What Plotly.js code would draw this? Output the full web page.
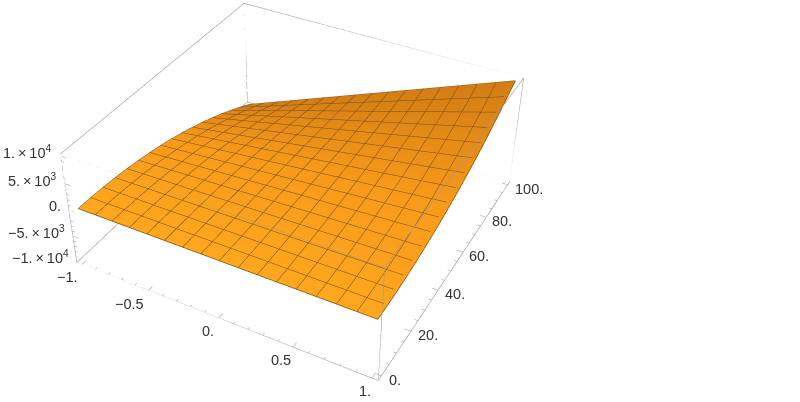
<!DOCTYPE html>
<html><head><meta charset="utf-8">
<script src="https://cdn.plot.ly/plotly-3.0.1.min.js"></script>
<style>html,body{margin:0;padding:0;background:#fff;overflow:hidden;width:800px;height:402px}
#c{position:absolute;left:-297px;top:-308px;width:1200px;height:954px}</style></head>
<body><div id="c"></div>
<script>
const xs=[-1,-0.875,-0.75,-0.625,-0.5,-0.375,-0.25,-0.125,0,0.125,0.25,0.375,0.5,0.625,0.75,0.875,1];
const ys=[0,6.25,12.5,18.75,25,31.25,37.5,43.75,50,56.25,62.5,68.75,75,81.25,87.5,93.75,100];
const zs=[
[0,0,0,0,0,0,0,0,0,0,0,0,0,0,0,0,0],
[-39,-34,-29,-24,-20,-15,-10,-5,0,5,10,15,20,24,29,34,39],
[-156,-137,-117,-98,-78,-59,-39,-20,0,20,39,59,78,98,117,137,156],
[-352,-308,-264,-220,-176,-132,-88,-44,0,44,88,132,176,220,264,308,352],
[-625,-547,-469,-391,-312,-234,-156,-78,0,78,156,234,312,391,469,547,625],
[-977,-854,-732,-610,-488,-366,-244,-122,0,122,244,366,488,610,732,854,977],
[-1406,-1230,-1055,-879,-703,-527,-352,-176,0,176,352,527,703,879,1055,1230,1406],
[-1914,-1675,-1436,-1196,-957,-718,-479,-239,0,239,479,718,957,1196,1436,1675,1914],
[-2500,-2188,-1875,-1562,-1250,-938,-625,-312,0,312,625,938,1250,1562,1875,2188,2500],
[-3164,-2769,-2373,-1978,-1582,-1187,-791,-396,0,396,791,1187,1582,1978,2373,2769,3164],
[-3906,-3418,-2930,-2441,-1953,-1465,-977,-488,0,488,977,1465,1953,2441,2930,3418,3906],
[-4727,-4136,-3545,-2954,-2363,-1772,-1182,-591,0,591,1182,1772,2363,2954,3545,4136,4727],
[-5625,-4922,-4219,-3516,-2812,-2109,-1406,-703,0,703,1406,2109,2812,3516,4219,4922,5625],
[-6602,-5776,-4951,-4126,-3301,-2476,-1650,-825,0,825,1650,2476,3301,4126,4951,5776,6602],
[-7656,-6699,-5742,-4785,-3828,-2871,-1914,-957,0,957,1914,2871,3828,4785,5742,6699,7656],
[-8789,-7690,-6592,-5493,-4395,-3296,-2197,-1099,0,1099,2197,3296,4395,5493,6592,7690,8789],
[-10000,-8750,-7500,-6250,-5000,-3750,-2500,-1250,0,1250,2500,3750,5000,6250,7500,8750,10000]];
const xRange=[-1.04,1.04], yRange=[-2,102], zRange=[-10300,10300];
const xMajor=[-1,-0.5,0,0.5,1], xLabels=['\u22121.','\u22120.5','0.','0.5','1.'];
const yMajor=[0,20,40,60,80,100], yLabels=['0.','20.','40.','60.','80.','100.'];
const zMajor=[-10000,-5000,0,5000,10000];
const zLabels=['\u22121.\u2009\u00d7\u200910<sup>4</sup>','\u22125.\u2009\u00d7\u200910<sup>3</sup>','0.','5.\u2009\u00d7\u200910<sup>3</sup>','1.\u2009\u00d7\u200910<sup>4</sup>'];
const xMinor=[-0.9,-0.8,-0.7,-0.6,-0.4,-0.3,-0.2,-0.1,0.1,0.2,0.3,0.4,0.6,0.7,0.8,0.9];
const yMinor=[5,10,15,25,30,35,45,50,55,65,70,75,85,90,95];
const zMinor=[-9000,-8000,-7000,-6000,-4000,-3000,-2000,-1000,1000,2000,3000,4000,6000,7000,8000,9000];
const xLabelShift=[-15,-19,-11,-12,-7];
const yLabelShift=[14,17,17,16,16,21];

const [x0,x1]=xRange,[y0,y1]=yRange,[z0,z1]=zRange;
const bx=[],by=[],bz=[];
const seg=(a,b)=>{bx.push(a[0],b[0],null);by.push(a[1],b[1],null);bz.push(a[2],b[2],null);};
[[y0,z0],[y1,z0],[y0,z1],[y1,z1]].forEach(p=>seg([x0,p[0],p[1]],[x1,p[0],p[1]]));
[[x0,z0],[x1,z0],[x0,z1],[x1,z1]].forEach(p=>seg([p[0],y0,p[1]],[p[0],y1,p[1]]));
[[x0,y0],[x1,y0],[x0,y1],[x1,y1]].forEach(p=>seg([p[0],p[1],z0],[p[0],p[1],z1]));
const tx=[],ty=[],tz=[];
const tseg=(a,b)=>{tx.push(a[0],b[0],null);ty.push(a[1],b[1],null);tz.push(a[2],b[2],null);};
const dx=x1-x0,dy=y1-y0;
xMajor.forEach(v=>tseg([v,y0,z0],[v,y0+dy*0.02,z0]));
xMinor.forEach(v=>tseg([v,y0,z0],[v,y0+dy*0.01,z0]));
yMajor.forEach(v=>tseg([x1,v,z0],[x1-dx*0.02,v,z0]));
yMinor.forEach(v=>tseg([x1,v,z0],[x1-dx*0.01,v,z0]));
zMajor.forEach(v=>tseg([x0,y0,v],[x0+dx*0.02,y0,v]));
zMinor.forEach(v=>tseg([x0,y0,v],[x0+dx*0.01,y0,v]));

const ox=[],oy=[],oz=[];
const last=xs.length-1, lastY=ys.length-1;
xs.forEach((x,i)=>{ox.push(x);oy.push(ys[0]);oz.push(zs[0][i]);});
ys.forEach((y,j)=>{ox.push(xs[last]);oy.push(y);oz.push(zs[j][last]);});
xs.slice().reverse().forEach((x,i)=>{ox.push(x);oy.push(ys[lastY]);oz.push(zs[lastY][last-i]);});
ys.slice().reverse().forEach((y,j)=>{ox.push(xs[0]);oy.push(y);oz.push(zs[lastY-j][0]);});

const font={family:'Liberation Sans, Arial, sans-serif',size:14.5,color:'#333'};
const note=(x,y,z,text,xs_,ys_,anchor)=>({x,y,z,text,showarrow:false,xshift:xs_,yshift:ys_,xanchor:anchor||'center',yanchor:'middle',font});
const annotations=[
 ...xMajor.map((v,i)=>note(v,y0,z0,xLabels[i],xLabelShift[i],-13)),
 ...yMajor.map((v,i)=>note(x1,v,z0,yLabels[i],yLabelShift[i],-4)),
 ...zMajor.map((v,i)=>note(x0,y0,v,zLabels[i],-6,4,'right'))
];
const ax={visible:false,showgrid:false,zeroline:false,showspikes:false,showticklabels:false};
const data=[
{type:'surface',x:xs,y:ys,z:zs,surfacecolor:ys.map(y=>xs.map(()=>y)),showscale:false,hoverinfo:'skip',
 colorscale:[[0,'#FFA71F'],[0.5,'#F79A1A'],[1,'#D27D14']],
 lighting:{ambient:1,diffuse:0,specular:0,roughness:1,fresnel:0},
 contours:{x:{show:true,start:-1,end:1,size:0.125,color:'#74490f',width:2},
           y:{show:true,start:0,end:100,size:6.25,color:'#74490f',width:2}}},
{type:'scatter3d',mode:'lines',x:ox,y:oy,z:oz,line:{color:'#74490f',width:1.5},hoverinfo:'skip',showlegend:false},
{type:'scatter3d',mode:'lines',x:bx,y:by,z:bz,line:{color:'#999999',width:1.2},hoverinfo:'skip',showlegend:false},
{type:'scatter3d',mode:'lines',x:tx,y:ty,z:tz,line:{color:'#999999',width:1},hoverinfo:'skip',showlegend:false}
];
const layout={width:1200,height:954,margin:{l:0,r:0,t:0,b:0},paper_bgcolor:'rgba(0,0,0,0)',showlegend:false,
 scene:{bgcolor:'rgba(0,0,0,0)',domain:{x:[0,1],y:[0,1]},aspectmode:'manual',aspectratio:{x:1,y:1,z:0.4},
  xaxis:{...ax,range:xRange},yaxis:{...ax,range:yRange},zaxis:{...ax,range:zRange},
  camera:{eye:{x:1.341,y:-2.469,z:2.08},center:{x:0,y:0,z:0},up:{x:0,y:0,z:1}},
  annotations}};
Plotly.newPlot('c',data,layout,{displayModeBar:false});
</script></body></html>
